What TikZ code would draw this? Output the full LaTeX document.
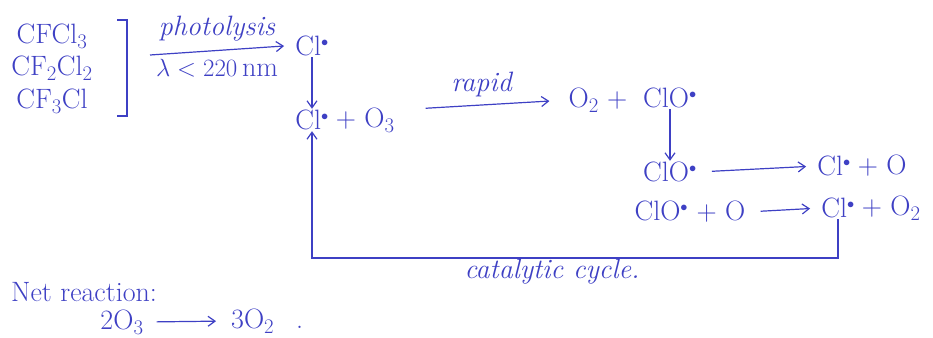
\documentclass[tikz,border=0pt]{standalone}
\usetikzlibrary{arrows.meta}
\definecolor{ink}{RGB}{62,64,196}
\newcommand{\rad}{$^{\scriptscriptstyle\bullet}$}
\begin{document}
\begin{tikzpicture}[x=1pt,y=-1pt,
  every node/.style={text=ink,font=\fontsize{28}{32}\selectfont,inner sep=1pt},
  chem/.style={},
  word/.style={font=\fontsize{28}{32}\selectfont\itshape},
  conn/.style={draw=ink,line width=1.2pt,-{Straight Barb[length=7pt,width=10pt]}},
  plain/.style={draw=ink,line width=1.2pt}]
\useasboundingbox (0,0) rectangle (933,337);
% CFCs
\node[chem] (cfa) at (52,36) {CFCl$_3$};
\node[chem] (cfb) at (52,68) {CF$_2$Cl$_2$};
\node[chem] (cfc) at (52,101) {CF$_3$Cl};
\draw[plain] (117,20) -- (127,20) -- (127,116) -- (117,116);
% photolysis
\node[chem] (cla) at (312,46) {Cl\rad};
\coordinate (ps) at (150,55);
\draw[conn] (ps) -- ([xshift=-10pt]cla.west) node[midway,above=8pt,word] (ph) {photolysis}
  node[midway,below=7pt] (lam) {$\lambda < 220$\,nm};
% Cl + O3
\node[chem] (clb) at (312,120) {Cl\rad};
\node[chem,anchor=west] (o3) at (clb.east) {\,+ O$_3$};
\draw[conn] (cla.south) -- (clb.north);
% O2 + ClO
\node[chem] (o2) at (598,100) {O$_2$ +};
\node[chem] (cloa) at (670,98) {ClO\rad};
\draw[conn,shorten <=30pt,shorten >=18pt] ([yshift=10pt]o3.east) -- (o2.west) node[midway,above=6pt,word] (rap) {rapid};
% ClO -> Cl + O
\node[chem] (clob) at (670,172) {ClO\rad};
\draw[conn] (cloa.south) -- (clob.north);
\node[chem] (clc) at (834,166) {Cl\rad};
\node[chem,anchor=west] (oa) at (clc.east) {\,+ O};
\draw[conn,shorten <=14pt,shorten >=10pt] (clob.east) -- (clc.west);
% ClO + O -> Cl + O2
\node[chem] (cloc) at (690,212) {ClO\rad{} + O};
\node[chem] (cld) at (838,208) {Cl\rad};
\node[chem,anchor=west] (ob) at (cld.east) {\,+ O$_2$};
\draw[conn,shorten <=14pt,shorten >=10pt] (cloc.east) -- (cld.west);
% cycle
\coordinate (cyc) at (0,258);
\draw[conn] (cld.south) -- (cld.south |- cyc) -- (clb.south |- cyc) -- (clb.south);
\node[word] (cat) at (552,272) {catalytic cycle.};
% net reaction
\node[chem,anchor=west] (net) at (10,292) {Net reaction:};
\node[chem] (o3n) at (122,322) {2O$_3$};
\node[chem,anchor=west] (o2n) at (230,321) {3O$_2$\hspace{22pt}.};
\draw[conn,shorten <=12pt,shorten >=14pt] (o3n.east) -- (o2n.west);
\end{tikzpicture}
\end{document}
